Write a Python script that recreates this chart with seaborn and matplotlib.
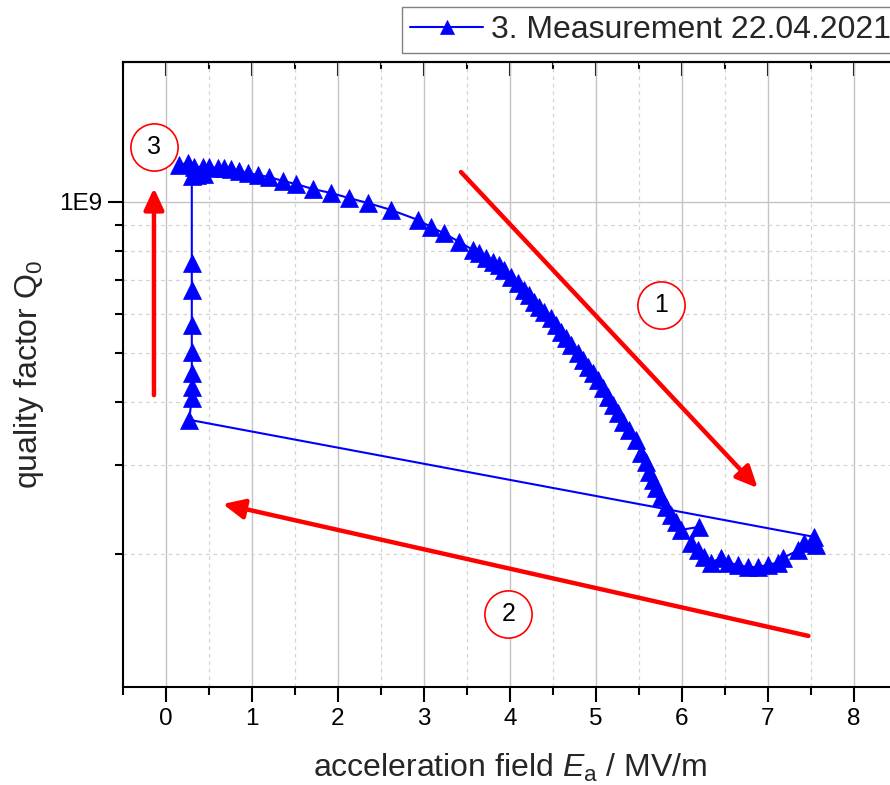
import numpy as np
import pandas as pd
import matplotlib
matplotlib.use("Agg")
import matplotlib.pyplot as plt
import seaborn as sns
from matplotlib.ticker import MultipleLocator, LogLocator, FuncFormatter, NullFormatter

# Accelerating field (MV/m) and unloaded quality factor, in measurement order:
# ramp up to 7.5 MV/m, jump back down to 0.3 MV/m, then recovery at low field.
field = [
    0.15, 0.26, 0.33, 0.43, 0.50, 0.60, 0.67, 0.76, 0.85, 0.95,
    1.07, 1.20, 1.36, 1.51, 1.71, 1.92, 2.13, 2.35, 2.62, 2.93,
    3.08, 3.23, 3.41, 3.57, 3.64, 3.72, 3.80, 3.87, 3.93, 4.01,
    4.09, 4.16, 4.22, 4.28, 4.34, 4.40, 4.48, 4.54, 4.59, 4.65,
    4.71, 4.79, 4.85, 4.91, 4.97, 5.02, 5.08, 5.14, 5.20, 5.26,
    5.31, 5.38, 5.47, 5.52, 5.58, 5.62, 5.66, 5.70, 5.76, 5.81,
    5.87, 5.93, 5.99, 6.20, 6.10, 6.19, 6.26, 6.34, 6.45, 6.53,
    6.65, 6.77, 6.88, 7.00, 7.12, 7.17, 7.35, 7.42, 7.56, 7.53,
    0.27, 0.30, 0.30, 0.30, 0.30, 0.30, 0.30, 0.30, 0.30, 0.36, 0.44,
]
q0 = [
    1.185e9, 1.196e9, 1.174e9, 1.174e9, 1.174e9, 1.169e9, 1.169e9, 1.163e9, 1.152e9, 1.142e9,
    1.132e9, 1.121e9, 1.101e9, 1.086e9, 1.061e9, 1.042e9, 1.018e9, 9.95e8, 9.64e8, 9.21e8,
    8.92e8, 8.67e8, 8.33e8, 8.03e8, 7.92e8, 7.74e8, 7.60e8, 7.50e8, 7.32e8, 7.10e8,
    6.90e8, 6.68e8, 6.53e8, 6.33e8, 6.18e8, 6.04e8, 5.88e8, 5.69e8, 5.52e8, 5.37e8,
    5.20e8, 5.01e8, 4.85e8, 4.70e8, 4.57e8, 4.43e8, 4.27e8, 4.10e8, 3.95e8, 3.81e8,
    3.65e8, 3.52e8, 3.36e8, 3.17e8, 3.04e8, 2.91e8, 2.80e8, 2.70e8, 2.59e8, 2.48e8,
    2.39e8, 2.31e8, 2.23e8, 2.26e8, 2.10e8, 2.03e8, 1.97e8, 1.92e8, 1.96e8, 1.92e8,
    1.90e8, 1.88e8, 1.88e8, 1.90e8, 1.92e8, 1.96e8, 2.03e8, 2.10e8, 2.08e8, 2.16e8,
    3.69e8, 4.08e8, 4.29e8, 4.57e8, 5.03e8, 5.69e8, 6.68e8, 7.56e8, 1.127e9, 1.132e9, 1.137e9,
]
series_label = "3. Measurement 22.04.2021"
step_labels = ["1", "2", "3"]

sns.set_theme(style="white")
plt.rcParams.update({
    "font.family": ["Liberation Sans", "DejaVu Sans"],
    "mathtext.fontset": "custom",
    "mathtext.rm": "Liberation Sans",
    "mathtext.it": "Liberation Sans:italic",
    "mathtext.bf": "Liberation Sans:bold",
})

fig = plt.figure(figsize=(8.9, 7.85), dpi=100)
ax = fig.add_axes([123 / 890, 98 / 785, 774 / 890, 625 / 785])

df = pd.DataFrame({"E": field, "Q": q0})
sns.lineplot(data=df, x="E", y="Q", sort=False, estimator=None, ax=ax,
             color="#0000ff", linewidth=1.5, marker="^", markersize=13,
             markeredgecolor="#0000ff", markeredgewidth=0.5,
             label=series_label, zorder=3)

ax.set_yscale("log")
ax.set_xlim(-0.5, 8.5)
ax.set_ylim(1.086e8, 1.898e9)

ax.xaxis.set_major_locator(MultipleLocator(1))
ax.xaxis.set_minor_locator(MultipleLocator(0.5))
ax.yaxis.set_major_locator(LogLocator(base=10))
ax.yaxis.set_minor_locator(LogLocator(base=10, subs=np.arange(2, 10)))
ax.yaxis.set_major_formatter(FuncFormatter(lambda v, p: f"1E{int(round(np.log10(v)))}"))
ax.yaxis.set_minor_formatter(NullFormatter())

ax.tick_params(which="major", direction="out", length=11, width=1.5,
               labelsize=17.5, pad=4, color="black", labelcolor="black",
               left=True, bottom=True)
ax.tick_params(which="minor", direction="out", length=6, width=1.5,
               left=True, bottom=True, color="black")

top = ax.secondary_xaxis("top")
top.xaxis.set_major_locator(MultipleLocator(1))
top.xaxis.set_minor_locator(MultipleLocator(0.5))
top.xaxis.set_major_formatter(NullFormatter())
top.tick_params(which="major", direction="in", length=10, width=1.5, color="black")
top.tick_params(which="minor", direction="in", length=5, width=1.5, color="black")
top.spines["top"].set_linewidth(1.5)
top.spines["top"].set_color("black")

for s in ax.spines.values():
    s.set_linewidth(1.5)
    s.set_color("black")

ax.set_axisbelow(True)
ax.grid(True, which="major", color="#c4c4c4", linewidth=1.0, linestyle="-")
ax.grid(True, which="minor", color="#d4d4d4", linewidth=0.9, linestyle=(0, (3, 3)))

ax.set_xlabel(r"acceleration field $E_\mathrm{a}$ / MV/m", fontsize=23, labelpad=16)
ax.set_ylabel(r"quality factor Q$_0$", fontsize=23)
ax.yaxis.set_label_coords(-0.100, 0.5)

leg = ax.legend(loc="upper left", bbox_to_anchor=(402 / 890, 1 - 7 / 785),
                bbox_transform=fig.transFigure, fontsize=23, frameon=True,
                fancybox=False, framealpha=1, edgecolor="#808080",
                borderpad=0.25, handlelength=2.3, handletextpad=0.25,
                borderaxespad=0, markerscale=0.8)
leg.get_frame().set_linewidth(1.0)

# Red arrows showing the measurement sequence
arrow_kw = dict(arrowstyle="-|>,head_length=0.65,head_width=0.3", color="red",
                lw=3.2, mutation_scale=20, shrinkA=0, shrinkB=0)
ax.annotate("", xy=(6.88, 2.70e8), xytext=(3.43, 1.147e9), arrowprops=arrow_kw)
ax.annotate("", xy=(0.66, 2.51e8), xytext=(7.47, 1.372e8), arrowprops=arrow_kw)
ax.annotate("", xy=(-0.14, 1.066e9), xytext=(-0.14, 4.13e8), arrowprops=arrow_kw)

# Circled step numbers
step_pos = [(5.76, 6.24e8), (3.98, 1.517e8), (-0.14, 1.286e9)]
for lbl, (cx, cy) in zip(step_labels, step_pos):
    ax.plot([cx], [cy], marker="o", markersize=34, markerfacecolor="white",
            markeredgecolor="red", markeredgewidth=1.2, linestyle="none",
            zorder=4, clip_on=False)
    ax.text(cx, cy, lbl, fontsize=18, ha="center", va="center", color="black", zorder=5)

fig.savefig("out.png", dpi=100)
